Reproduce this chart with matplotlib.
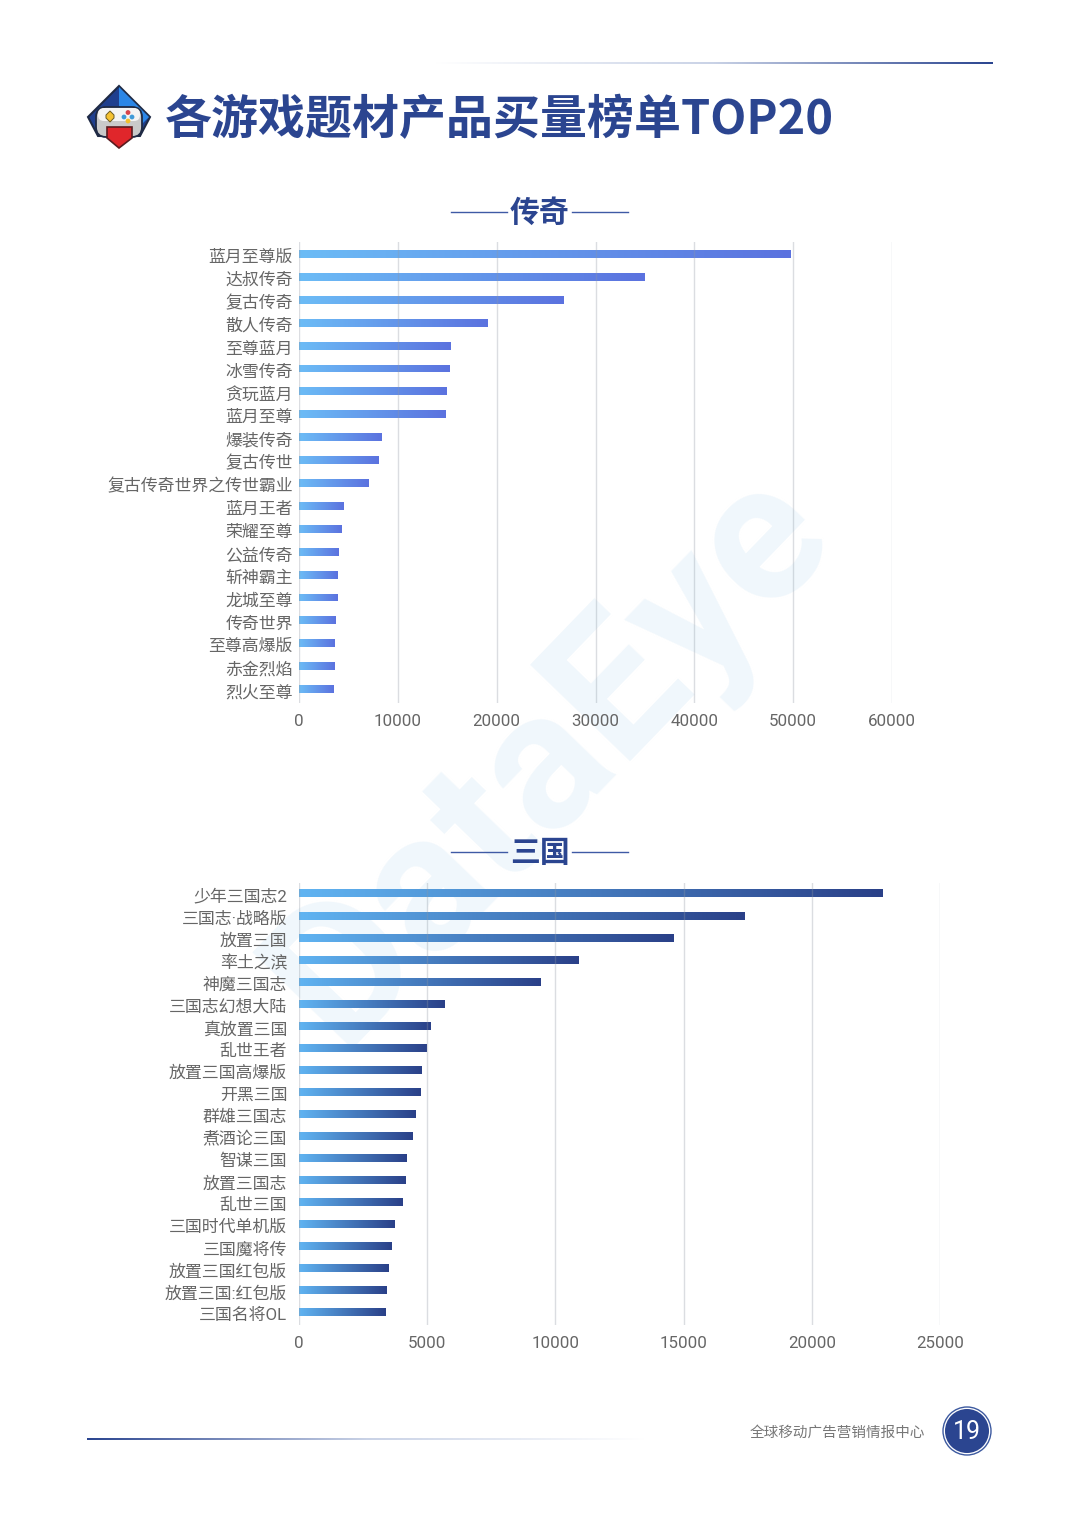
import numpy as np
import matplotlib
matplotlib.use('Agg')
import matplotlib.pyplot as plt
from matplotlib.colors import LinearSegmentedColormap
from matplotlib.patches import Polygon, Circle, FancyBboxPatch
from matplotlib.transforms import ScaledTranslation

plt.rcParams['font.family'] = ['Noto Sans CJK SC', 'DejaVu Sans']

W, H = 1080, 1527

# data
legend_names = ['蓝月至尊版', '达叔传奇', '复古传奇', '散人传奇', '至尊蓝月', '冰雪传奇', '贪玩蓝月', '蓝月至尊',
                '爆装传奇', '复古传世', '复古传奇世界之传世霸业', '蓝月王者', '荣耀至尊', '公益传奇', '斩神霸主',
                '龙城至尊', '传奇世界', '至尊高爆版', '赤金烈焰', '烈火至尊']
legend_values = [49700, 34950, 26750, 19050, 15300, 15200, 14900, 14800, 8300, 8000,
                 7050, 4550, 4350, 3950, 3900, 3850, 3700, 3600, 3550, 3450]
legend_ticks = [0, 10000, 20000, 30000, 40000, 50000, 60000]

sanguo_names = ['少年三国志2', '三国志·战略版', '放置三国', '率土之滨', '神魔三国志', '三国志幻想大陆', '真放置三国',
                '乱世王者', '放置三国高爆版', '开黑三国', '群雄三国志', '煮酒论三国', '智谋三国', '放置三国志',
                '乱世三国', '三国时代单机版', '三国魔将传', '放置三国红包版', '放置三国:红包版', '三国名将OL']
sanguo_values = [22770, 17390, 14620, 10920, 9400, 5690, 5110, 4990, 4760, 4720,
                 4560, 4410, 4210, 4170, 4050, 3740, 3590, 3510, 3400, 3390]
sanguo_ticks = [0, 5000, 10000, 15000, 20000, 25000]

navy = '#2b4590'
fig = plt.figure(figsize=(W / 100, H / 100), dpi=100, facecolor='white')

# page layer in pixel coordinates
bg = fig.add_axes([0, 0, 1, 1], zorder=0)
bg.set_xlim(0, W)
bg.set_ylim(H, 0)
bg.axis('off')

# watermark
bg.text(552, 757, 'DataEye', fontsize=140, fontweight='bold', color='#f0f7fc', rotation=46,
        ha='center', va='center', family=['Roboto', 'DejaVu Sans'], zorder=0.5)

# header and footer lines
fade_r = LinearSegmentedColormap.from_list('fr', ['#ffffff', '#c9d2e6', navy])
fade_l = LinearSegmentedColormap.from_list('fl', [navy, '#c9d2e6', '#ffffff'])
grad = np.linspace(0, 1, 256).reshape(1, -1)
bg.imshow(grad, cmap=fade_r, extent=(435, 993, 64.5, 62.5), aspect='auto')
bg.imshow(grad, cmap=fade_l, extent=(87, 645, 1440.5, 1438.5), aspect='auto')
bg.set_xlim(0, W)
bg.set_ylim(H, 0)

# logo
edge = '#1f2a44'
bg.add_patch(Polygon([(119, 86), (88, 117), (98, 136), (140, 136), (150, 117)], fc='#1f3f8e', ec=edge, lw=1.5, zorder=3))
bg.add_patch(Polygon([(119, 87), (149, 117), (140, 126), (119, 106)], fc='#2b86e6', ec='none', zorder=3))
bg.add_patch(FancyBboxPatch((96, 107), 46, 30, boxstyle='round,pad=0,rounding_size=10', fc='#c9c9c9', ec=edge, lw=1.3, zorder=3))
bg.add_patch(FancyBboxPatch((98, 108), 42, 13, boxstyle='round,pad=0,rounding_size=6', fc='#f4f4f4', ec='none', zorder=3))
bg.add_patch(Polygon([(107, 127), (132, 127), (132, 138), (119, 148), (107, 138)], fc='#e0262b', ec='#5a1c20', lw=1.2, zorder=3))
bg.add_patch(Polygon([(110, 111), (114, 115), (114, 118), (110, 122), (106, 118), (106, 115)], fc='#f5c232', ec='#6b5a20', lw=0.7, zorder=3))
bg.add_patch(Circle((128, 112.5), 2.4, fc='#d8434a', ec='none', zorder=3))
bg.add_patch(Circle((128, 121), 2.4, fc='#f2c02d', ec='none', zorder=3))
bg.add_patch(Circle((124, 117), 2.4, fc='#3f9ad8', ec='none', zorder=3))
bg.add_patch(Circle((132, 117), 2.4, fc='#3f9ad8', ec='none', zorder=3))

# title
bg.text(165, 120, '各游戏题材产品买量榜单TOP20', fontsize=33.8, fontweight='bold', color=navy, ha='left', va='center')

# section titles
for cy, name in [(212, '传奇'), (852, '三国')]:
    bg.text(539.5, cy + 1, name, fontsize=21.5, fontweight='bold', color=navy, ha='center', va='center')
    bg.plot([451, 507], [cy, cy], color='#3f5aa5', lw=1)
    bg.plot([572, 628], [cy, cy], color='#3f5aa5', lw=1)

# footer
bg.text(925, 1433, '全球移动广告营销情报中心', fontsize=10.5, color='#777777', ha='right', va='center')
bg.add_patch(Circle((967, 1431), 24, fc='white', ec='#3d5aa0', lw=1))
bg.add_patch(Circle((967, 1431), 22, fc=navy, ec='none'))
bg.text(967, 1432, '19', fontsize=18, color='white', ha='center', va='center',
        family=['Roboto', 'DejaVu Sans'])

label_family = ['Roboto', 'Noto Sans CJK SC', 'DejaVu Sans']


def bar_chart(names, values, ticks, left, right, top, bottom, first, step, xmax, cmap, pad):
    ax = fig.add_axes([left / W, 1 - bottom / H, (right - left) / W, (bottom - top) / H], zorder=2)
    ax.patch.set_alpha(0)
    y = np.arange(len(names))
    bars = ax.barh(y, values, height=8 / step, color='none')
    ylim = ((bottom - first) / step, (top - first) / step)
    # each bar carries its own left to right gradient
    for rect, v, yy in zip(bars, values, y):
        im = ax.imshow(grad, cmap=cmap, aspect='auto', extent=(0, v, yy + 4 / step, yy - 4 / step), zorder=2)
        im.set_clip_path(rect)
    ax.set_xlim(0, xmax)
    ax.set_ylim(*ylim)
    ax.set_yticks(y, names)
    ax.set_xticks(ticks, [str(t) for t in ticks])
    ax.tick_params(axis='y', length=0, pad=pad, labelsize=12.2, labelcolor='#666666')
    ax.tick_params(axis='x', length=0, pad=8, labelsize=12.2, labelcolor='#666666')
    for lab in ax.get_xticklabels():
        lab.set_fontfamily(['Roboto', 'DejaVu Sans'])
    shift = ScaledTranslation(0, -2 / 100, fig.dpi_scale_trans)
    for lab in ax.get_yticklabels():
        lab.set_fontfamily(label_family)
        lab.set_transform(lab.get_transform() + shift)
    ax.grid(axis='x', color='#8f98a3', alpha=0.32, lw=1)
    ax.set_axisbelow(False)
    for s in ax.spines.values():
        s.set_visible(False)
    return ax


legend_cmap = LinearSegmentedColormap.from_list('legend', ['#6cbcf6', '#5b72df'])
sanguo_cmap = LinearSegmentedColormap.from_list('sanguo', ['#60b4f2', '#2a4088'])

bar_chart(legend_names, legend_values, legend_ticks, 299, 892, 242, 703, 254, 22.9, 60000, legend_cmap, 4.5)
bar_chart(sanguo_names, sanguo_values, sanguo_ticks, 299, 940, 883, 1325, 893.5, 22.05, 25000, sanguo_cmap, 8.5)

fig.savefig('out.png', dpi=100)
